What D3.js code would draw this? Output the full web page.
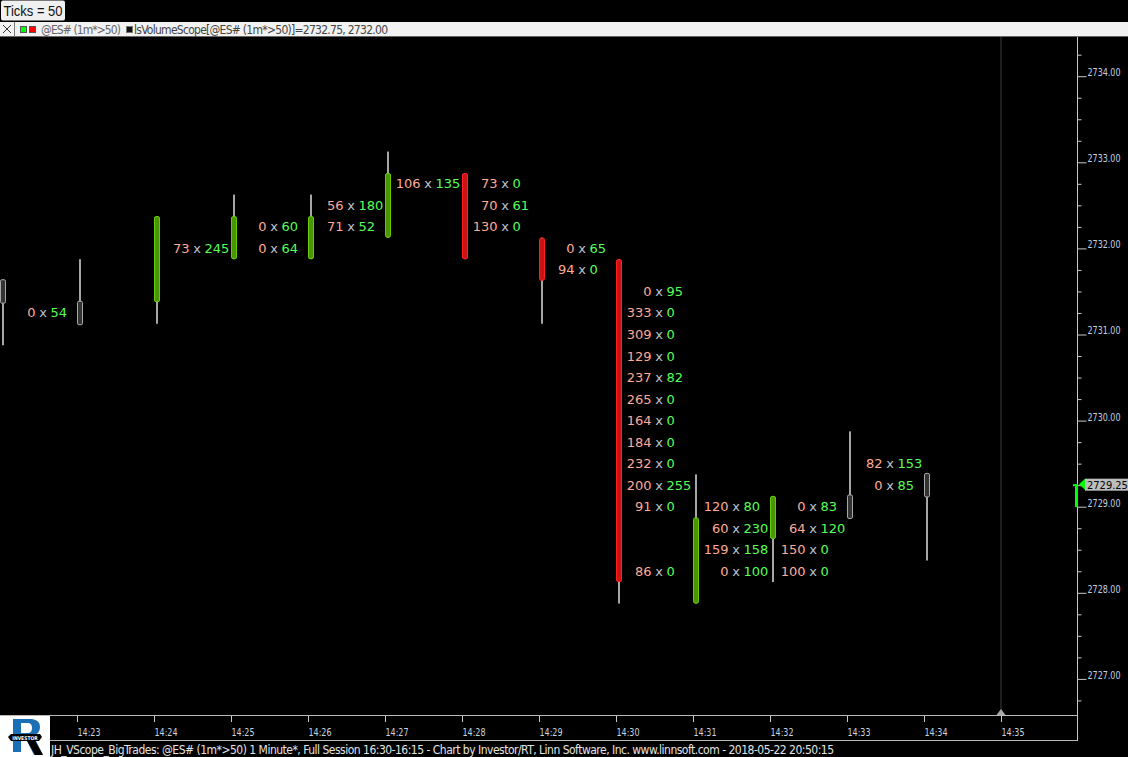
<!DOCTYPE html>
<html><head><meta charset="utf-8">
<script src="https://d3js.org/d3.v7.min.js"></script>
<style>html,body{margin:0;padding:0;background:#000;overflow:hidden}svg{display:block}</style>
</head><body><div id="c"></div>
<script>
const barTimes=["14:22","14:23","14:24","14:25","14:26","14:27","14:28","14:29","14:30","14:31","14:32","14:33","14:34","14:35"];
const barDir=["flat","flat","up","up","up","up","down","down","down","up","up","flat","flat"];
const bodyHigh=[2731.5,2731.25,2732.25,2732.25,2732.25,2732.75,2732.75,2732,2731.75,2728.75,2729,2729,2729.25];
const bodyLow=[2731.5,2731.25,2731.5,2732,2732,2732.25,2732,2731.75,2728.25,2728,2728.75,2729,2729.25];
const wickHigh=[2731.5,2731.75,2732.25,2732.5,2732.5,2733,2732.75,2732,2731.75,2729.25,2729,2729.75,2729.25];
const wickLow=[2731,2731.25,2731.25,2732,2732,2732.25,2732,2731.25,2728,2728,2728.25,2729,2728.5];

const rowBar=[0,2,3,3,4,4,5,6,6,6,7,7,8,8,8,8,8,8,8,8,8,8,8,8,9,9,9,9,10,10,10,10,11,11];
const rowPrice=[2731.25,2732,2732.25,2732,2732.5,2732.25,2732.75,2732.75,2732.5,2732.25,2732,2731.75,
 2731.5,2731.25,2731,2730.75,2730.5,2730.25,2730,2729.75,2729.5,2729.25,2729,2728.25,
 2729,2728.75,2728.5,2728.25,2729,2728.75,2728.5,2728.25,2729.5,2729.25];
const rowBid=[0,73,0,0,56,71,106,73,70,130,0,94,0,333,309,129,237,265,164,184,232,200,91,86,120,60,159,0,0,64,150,100,82,0];
const rowAsk=[54,245,60,64,180,52,135,0,61,0,65,0,95,0,0,0,82,0,0,0,0,255,0,0,80,230,158,100,83,120,0,0,153,85];

const priceTicks=[2727,2728,2729,2730,2731,2732,2733,2734];
const minorTicks=[2726.75,2727.25,2727.5,2727.75,2728.25,2728.5,2728.75,2729.25,2729.5,2729.75,2730.25,2730.5,2730.75,2731.25,2731.5,2731.75,2732.25,2732.5,2732.75,2733.25,2733.5,2733.75,2734.25];
const lastPrice=2729.25;
const halfTick=0.125;

const W=1128,H=757;
const svg=d3.select("#c").append("svg").attr("width",W).attr("height",H);
svg.append("rect").attr("width",W).attr("height",H).attr("fill","#000");

const y=d3.scaleLinear().domain([2727,2733]).range([678.9,162.3]);
const x=d3.scaleLinear().domain([0,13]).range([3,1004]);
const fontUI="'DejaVu Sans Condensed','DejaVu Sans',sans-serif";
const fontData="'DejaVu Sans',sans-serif";

// cursor line
const cursorX=x(13)-3.5;
svg.append("line").attr("x1",cursorX+.5).attr("x2",cursorX+.5).attr("y1",37).attr("y2",711).attr("stroke","#3c3c3c");
svg.append("path").attr("d",`M${cursorX-4},715 L${cursorX+.5},709 L${cursorX+5},715 Z`).attr("fill","#a8a8a8");

// wicks
svg.append("g").selectAll("rect").data(d3.range(bodyHigh.length)).join("rect")
 .attr("x",i=>x(i)-1).attr("width",2)
 .attr("y",i=>y(wickHigh[i]+halfTick)).attr("height",i=>y(wickLow[i]-halfTick)-y(wickHigh[i]+halfTick))
 .attr("fill","#a6a6a6");
// bodies
const fills={up:"#4a9600",down:"#c81414",flat:"#333"},strokes={up:"#66cc00",down:"#ff2020",flat:"#a8a8a8"};
svg.append("g").selectAll("rect").data(d3.range(bodyHigh.length)).join("rect")
 .attr("x",i=>x(i)-2.5).attr("width",5).attr("rx",1.5)
 .attr("y",i=>y(bodyHigh[i]+halfTick)-(barDir[i]=="flat"?1.5:0)+.5)
 .attr("height",i=>y(bodyLow[i]-halfTick)-y(bodyHigh[i]+halfTick)+(barDir[i]=="flat"?3:0)-1)
 .attr("fill",i=>fills[barDir[i]]).attr("stroke",i=>strokes[barDir[i]]).attr("stroke-width",1);

// footprint rows
const rows=svg.append("g").attr("font-family",fontData).attr("font-size",13);
const rg=rows.selectAll("g").data(d3.range(rowBar.length)).join("g")
 .attr("transform",i=>`translate(${x(rowBar[i])+40},${y(rowPrice[i])+4.5})`);
rg.append("text").attr("x",-7.5).attr("text-anchor","end").attr("fill","#ffab96").text(i=>rowBid[i]);
rg.append("text").attr("x",0).attr("text-anchor","middle").attr("fill","#b9c4cf").text("x");
rg.append("text").attr("x",7.5).attr("text-anchor","start").attr("fill","#55ff55").text(i=>rowAsk[i]);

// time axis
const gx=svg.append("g").attr("transform","translate(-3,716)")
 .call(d3.axisBottom(x).tickValues(d3.range(1,14)).tickFormat(i=>barTimes[i]).tickSize(6).tickPadding(6).tickSizeOuter(0));
gx.select(".domain").remove();
gx.selectAll("line").attr("stroke","#c8c8c8");
gx.selectAll("text").attr("text-anchor","start").attr("fill","#c9d4de").attr("font-family",fontUI).attr("font-size",11)
 .attr("textLength",23).attr("lengthAdjust","spacingAndGlyphs");

// price axis
const axisX=1077.5;
const gm=svg.append("g").attr("transform",`translate(${axisX},0)`)
 .call(d3.axisRight(y).tickValues(minorTicks).tickSize(4).tickFormat("").tickSizeOuter(0));
gm.select(".domain").remove();
gm.selectAll("line").attr("stroke","#c8c8c8");
const gy=svg.append("g").attr("transform",`translate(${axisX},0)`)
 .call(d3.axisRight(y).tickValues(priceTicks).tickSize(9).tickPadding(1).tickFormat(d3.format(".2f")).tickSizeOuter(0));
gy.select(".domain").remove();
gy.selectAll("line").attr("stroke","#c8c8c8");
gy.selectAll("text").attr("fill","#c0d0e0").attr("font-family",fontUI).attr("font-size",11).attr("dy","-0.05em")
 .attr("textLength",33).attr("lengthAdjust","spacingAndGlyphs");

// frame lines
svg.append("line").attr("x1",0).attr("x2",axisX+.5).attr("y1",715.5).attr("y2",715.5).attr("stroke","#b8b8b8");
svg.append("line").attr("x1",50).attr("x2",axisX+.5).attr("y1",740.5).attr("y2",740.5).attr("stroke","#b8b8b8");
svg.append("line").attr("x1",axisX).attr("x2",axisX).attr("y1",37).attr("y2",741).attr("stroke","#c8c8c8");

// last price marker
const ly=y(lastPrice);
svg.append("rect").attr("x",1075).attr("y",ly-1).attr("width",3).attr("height",23).attr("fill","#00ff00");
svg.append("rect").attr("x",1073).attr("y",ly-1).attr("width",3).attr("height",2).attr("fill","#00ff00");
svg.append("path").attr("d",`M1079,${ly-1} L1085,${ly-6.5} L1085,${ly+4.5} Z`).attr("fill","#00ff00");
svg.append("rect").attr("x",1085).attr("y",ly-6.5).attr("width",43).attr("height",12).attr("fill","#bdbdbd");
svg.append("text").attr("x",1087).attr("y",ly+4).attr("font-family",fontUI).attr("font-size",11).attr("fill","#000")
 .text(d3.format(".2f")(lastPrice));

// top box
svg.append("rect").attr("x",1).attr("y",.5).attr("width",64).attr("height",20).attr("rx",2).attr("fill","#f0f0f0");
svg.append("text").attr("x",3.5).attr("y",16).attr("font-family","'Liberation Sans',sans-serif").attr("font-size",14).attr("fill","#111")
 .attr("textLength",59).attr("lengthAdjust","spacingAndGlyphs").text("Ticks = 50");
// legend bar
svg.append("rect").attr("x",0).attr("y",22).attr("width",W).attr("height",15).attr("fill","#f2f2f2");
svg.append("rect").attr("x",0).attr("y",36).attr("width",W).attr("height",1).attr("fill","#666");
svg.append("rect").attr("x",14).attr("y",22).attr("width",1).attr("height",15).attr("fill","#777");
svg.append("path").attr("d","M3,25 L11,33 M11,25 L3,33").attr("stroke","#333").attr("fill","none");
svg.append("rect").attr("x",20.5).attr("y",26.5).attr("width",6).attr("height",6).attr("fill","#00ff00").attr("stroke","#555");
svg.append("rect").attr("x",29.5).attr("y",26.5).attr("width",6).attr("height",6).attr("fill","#ff0000").attr("stroke","#555");
svg.append("rect").attr("x",126.5).attr("y",26.5).attr("width",6).attr("height",6).attr("fill","#111").attr("stroke","#777");
svg.append("text").attr("x",41).attr("y",34).attr("font-family",fontUI).attr("font-size",12).attr("fill","#666").attr("textLength",80).text("@ES# (1m*>50)");
svg.append("text").attr("x",134).attr("y",34).attr("font-family",fontUI).attr("font-size",12).attr("fill","#444").attr("textLength",254).text("lsVolumeScope[@ES# (1m*>50)]=2732.75, 2732.00");

// logo
const logo=svg.append("g");
logo.append("rect").attr("x",0).attr("y",716).attr("width",50).attr("height",41).attr("fill","#fff");
logo.append("path").attr("d","M13,719 H32 Q40,720 40,727 Q40,734 33,735 L43,755 H34 L25,737 H21 V752 H13 Z M21,723 V733 H29 Q32,732 32,728 Q32,724 29,723 Z").attr("fill","#1a6fb5").attr("fill-rule","evenodd");
logo.append("path").attr("d","M25,737 L33,737 L43,755 H35 Z").attr("fill","#000");
logo.append("path").attr("d","M8,737 L11,734 H40 L42,737 L39,741 H11 Z").attr("fill","#000");
logo.append("text").attr("x",25).attr("y",739.5).attr("text-anchor","middle").attr("font-family",fontUI).attr("font-size",5).attr("font-weight","bold").attr("fill","#fff").text("INVESTOR");

// footer
svg.append("text").attr("x",51).attr("y",754).attr("font-family",fontUI).attr("font-size",12).attr("fill","#e4e4e4").attr("textLength",783)
 .text("JH_VScope_BigTrades: @ES# (1m*>50) 1 Minute*, Full Session 16:30-16:15 - Chart by Investor/RT, Linn Software, Inc. www.linnsoft.com - 2018-05-22 20:50:15");
</script></body></html>
